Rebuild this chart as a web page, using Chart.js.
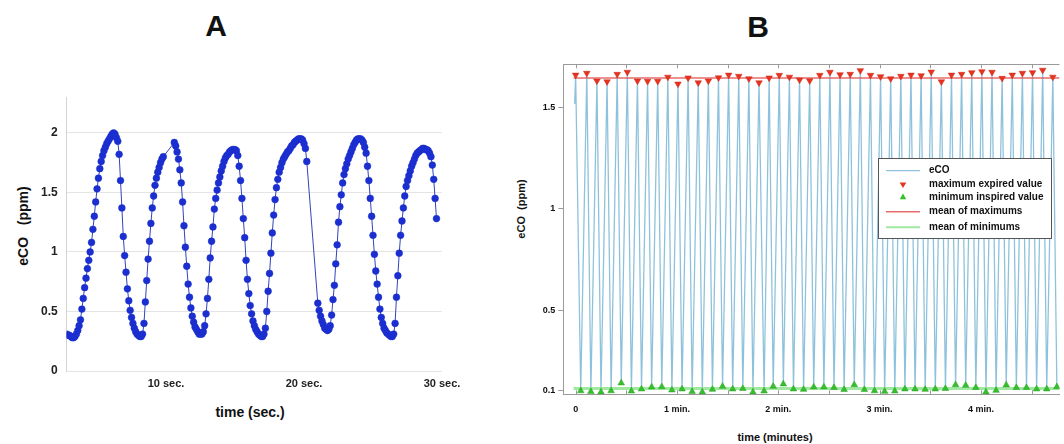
<!DOCTYPE html>
<html>
<head>
<meta charset="utf-8">
<title>eCO</title>
<style>
  html, body { margin: 0; padding: 0; background: #fff; }
  body { width: 1064px; height: 444px; position: relative; overflow: hidden; font-family: "Liberation Sans", Arial, sans-serif; }
  .lbl { position: absolute; transform: translate(-50%, -50%); font-weight: bold; color: #111; white-space: pre; }
  .rot { transform: translate(-50%, -50%) rotate(-90deg); }
  canvas { position: absolute; }
</style>
</head>
<body>
<div class="lbl" style="left:216px;top:26px;font-size:30px;">A</div>
<div class="lbl" style="left:758px;top:27px;font-size:30px;">B</div>
<div class="lbl rot" style="left:23px;top:226px;font-size:14px;">eCO   (ppm)</div>
<div class="lbl" style="left:250px;top:412px;font-size:14px;">time (sec.)</div>
<div class="lbl rot" style="left:521px;top:209px;font-size:11px;">eCO  (ppm)</div>
<div class="lbl" style="left:775px;top:437px;font-size:11px;">time (minutes)</div>

<canvas id="chartA" width="470" height="340" style="left:0;top:90px;width:470px;height:340px;"></canvas>
<canvas id="chartB" width="574" height="404" style="left:490px;top:40px;width:574px;height:404px;"></canvas>

<script src="https://cdn.jsdelivr.net/npm/chart.js"></script>
<script>
// ---- panel A : raw eCO samples (ppm), sampled every 0.1 s, three runs split by gaps
const stepA = 0.1;
const segStartA = [2.8, 10.6, 21.0];
const seg1A = [0.31,0.30,0.30,0.29,0.28,0.28,0.29,0.31,0.34,0.38,
               0.43,0.52,0.61,0.70,0.78,0.86,0.93,1.00,1.08,1.19,
               1.30,1.42,1.53,1.62,1.70,1.76,1.81,1.85,1.88,1.91,
               1.93,1.95,1.97,1.99,2.00,1.99,1.96,1.93,1.82,1.60,
               1.37,1.13,0.97,0.83,0.69,0.59,0.51,0.45,0.40,0.36,
               0.33,0.31,0.30,0.29,0.29,0.31,0.40,0.58,0.76,0.94,
               1.09,1.24,1.37,1.47,1.56,1.62,1.67,1.71,1.75,1.78,
               1.80];
const seg2A = [1.92,1.89,1.84,1.78,1.69,1.58,1.42,1.22,1.04,0.88,
               0.73,0.62,0.53,0.46,0.41,0.37,0.35,0.33,0.31,0.31,
               0.31,0.33,0.38,0.48,0.61,0.77,0.95,1.09,1.21,1.36,
               1.45,1.52,1.58,1.63,1.68,1.72,1.76,1.79,1.81,1.82,
               1.84,1.85,1.86,1.86,1.86,1.85,1.81,1.72,1.60,1.45,
               1.28,1.12,0.93,0.77,0.65,0.55,0.48,0.42,0.38,0.35,
               0.33,0.31,0.30,0.29,0.29,0.31,0.36,0.50,0.67,0.82,
               0.99,1.16,1.31,1.44,1.54,1.61,1.67,1.71,1.75,1.78,
               1.80,1.82,1.84,1.85,1.87,1.89,1.90,1.92,1.93,1.94,
               1.95,1.95,1.95,1.94,1.91,1.87,1.76];
const seg3A = [0.57,0.51,0.46,0.42,0.39,0.36,0.35,0.34,0.35,0.38,
               0.47,0.60,0.72,0.90,1.06,1.25,1.38,1.48,1.58,1.65,
               1.70,1.74,1.78,1.81,1.84,1.87,1.90,1.92,1.94,1.95,
               1.95,1.95,1.94,1.92,1.88,1.83,1.72,1.60,1.45,1.30,
               1.14,0.98,0.84,0.73,0.62,0.52,0.45,0.40,0.36,0.34,
               0.32,0.31,0.30,0.29,0.29,0.31,0.40,0.62,0.80,0.99,
               1.14,1.26,1.37,1.47,1.55,1.60,1.64,1.68,1.72,1.75,
               1.78,1.81,1.83,1.84,1.85,1.86,1.87,1.87,1.86,1.86,
               1.85,1.83,1.80,1.73,1.61,1.45,1.28];
const xTicksA = [10, 20, 30];
const yTicksA = [0, 0.5, 1, 1.5, 2];

// ---- panel B : breath-by-breath extremes (time in minutes, eCO in ppm)
const maxTimesB = [0.00,0.11,0.21,0.31,0.41,0.51,0.61,0.71,0.81,0.91,1.01,1.11,1.21,1.31,1.41,1.51,
                   1.61,1.71,1.81,1.91,2.01,2.11,2.21,2.31,2.41,2.51,2.61,2.71,2.81,2.91,3.01,3.11,
                   3.21,3.31,3.41,3.51,3.61,3.71,3.81,3.91,4.01,4.11,4.21,4.31,4.41,4.51,4.61,4.71];
const maxValsB  = [1.663,1.672,1.634,1.630,1.667,1.677,1.634,1.632,1.632,1.653,1.619,1.649,1.625,1.634,1.650,1.663,
                   1.657,1.645,1.625,1.649,1.662,1.653,1.639,1.635,1.662,1.677,1.665,1.667,1.685,1.662,1.655,1.645,
                   1.657,1.663,1.660,1.678,1.630,1.663,1.667,1.675,1.680,1.677,1.647,1.663,1.672,1.675,1.687,1.653];
const minTimesB = [0.05,0.15,0.25,0.35,0.45,0.55,0.65,0.75,0.85,0.95,1.05,1.15,1.25,1.35,1.45,1.55,
                   1.65,1.75,1.86,1.95,2.05,2.15,2.25,2.35,2.45,2.55,2.65,2.75,2.85,2.95,3.05,3.15,
                   3.25,3.35,3.45,3.55,3.65,3.75,3.85,3.95,4.05,4.15,4.25,4.35,4.45,4.55,4.65,4.75];
const minValsB  = [0.100,0.096,0.094,0.100,0.139,0.099,0.109,0.119,0.120,0.104,0.109,0.096,0.094,0.107,0.122,0.109,
                   0.111,0.094,0.099,0.122,0.134,0.109,0.107,0.119,0.119,0.116,0.106,0.130,0.106,0.100,0.097,0.099,
                   0.109,0.109,0.107,0.109,0.111,0.130,0.127,0.116,0.094,0.102,0.129,0.116,0.116,0.109,0.109,0.120];
const ecoLeadB = [-0.01, 1.52];          // trace start, before first peak
const meanMaxB = 1.648;
const meanMinB = 0.112;
const xTicksB = [0, 0.5, 1, 1.5, 2, 2.5, 3, 3.5, 4, 4.5];
const yTicksB = [0.1, 0.5, 1, 1.5];

Chart.defaults.font.family = '"Liberation Sans", Arial, sans-serif';
Chart.defaults.color = '#1a1a1a';

function plain(v) { return String(v); }

// build panel A points
const ptsA = [];
[seg1A, seg2A, seg3A].forEach(function(seg, k) {
  seg.forEach(function(v, i) {
    ptsA.push({ x: Math.round((segStartA[k] + i * stepA) * 100) / 100, y: v });
  });
});

new Chart(document.getElementById('chartA'), {
  type: 'line',
  data: {
    datasets: [{
      label: 'eCO',
      data: ptsA,
      borderColor: '#3344bb',
      borderWidth: 1,
      pointRadius: 3.4,
      pointBackgroundColor: '#1b2ecf',
      pointBorderColor: '#1b2ecf',
      pointBorderWidth: 0.5,
      tension: 0
    }]
  },
  options: {
    responsive: false,
    animation: false,
    layout: { padding: { top: 7, right: 28, left: 0, bottom: 0 } },
    plugins: { legend: { display: false }, tooltip: { enabled: false } },
    scales: {
      x: {
        type: 'linear', min: 2.8, max: 30,
        afterBuildTicks: function(s) { s.ticks = xTicksA.map(function(v) { return { value: v }; }); },
        ticks: { callback: function(v) { return v + ' sec.'; }, font: { size: 11, weight: 'bold' }, padding: 6, maxRotation: 0, autoSkip: false, color: '#222' },
        grid: { display: false, drawTicks: false },
        border: { display: false },
        afterFit: function(s) { s.height = 59; }
      },
      y: {
        min: 0, max: 2.3,
        afterBuildTicks: function(s) { s.ticks = yTicksA.map(function(v) { return { value: v }; }); },
        ticks: { callback: plain, font: { size: 12, weight: 'bold' }, padding: 0, color: '#222' },
        grid: { color: '#e4e4e4', drawTicks: true, tickLength: 9, tickColor: 'rgba(0,0,0,0)' },
        border: { color: '#d4d4d4' },
        afterFit: function(s) { s.width = 66.7; }
      }
    }
  }
});

// build panel B trace: alternate peak / trough
const ecoPtsB = [{ x: ecoLeadB[0], y: ecoLeadB[1] }];
maxTimesB.forEach(function(t, i) {
  ecoPtsB.push({ x: t, y: maxValsB[i] });
  ecoPtsB.push({ x: minTimesB[i], y: minValsB[i] });
});

const frameB = {
  id: 'frameB',
  afterDraw: function(chart) {
    const ctx = chart.ctx, a = chart.chartArea, x = chart.scales.x;
    ctx.save();
    ctx.strokeStyle = '#9a9a9a';
    ctx.lineWidth = 1;
    ctx.beginPath();
    ctx.moveTo(a.left, Math.round(a.top) + 0.5);
    ctx.lineTo(a.right, Math.round(a.top) + 0.5);
    x.ticks.forEach(function(t) {
      const px = Math.round(x.getPixelForValue(t.value)) + 0.5;
      ctx.moveTo(px, a.top);
      ctx.lineTo(px, a.top + 4);
      ctx.moveTo(px, a.bottom);
      ctx.lineTo(px, a.bottom - 4);
    });
    ctx.stroke();
    ctx.restore();
  }
};

const legendB = {
  id: 'legendB',
  afterDraw: function(chart, args, o) {
    const ctx = chart.ctx;
    ctx.save();
    ctx.fillStyle = '#fff';
    ctx.fillRect(o.x, o.y, o.w, o.h);
    ctx.strokeStyle = '#555';
    ctx.lineWidth = 1;
    ctx.strokeRect(o.x + 0.5, o.y + 0.5, o.w, o.h);
    ctx.font = 'bold 10px "Liberation Sans", Arial, sans-serif';
    ctx.textBaseline = 'middle';
    chart.data.datasets.forEach(function(ds, i) {
      const y = o.y + o.rows[i];
      if (ds.showLine === false) {
        const r = ds.pointRadius, cx = o.markX;
        const dir = ds.pointRotation === 180 ? 1 : -1;
        ctx.beginPath();
        ctx.moveTo(cx, y + dir * r);
        ctx.lineTo(cx - r * 0.87, y - dir * r * 0.5);
        ctx.lineTo(cx + r * 0.87, y - dir * r * 0.5);
        ctx.closePath();
        ctx.fillStyle = ds.pointBackgroundColor;
        ctx.fill();
      } else {
        ctx.strokeStyle = ds.borderColor;
        ctx.lineWidth = Math.min(ds.borderWidth, 2);
        ctx.beginPath();
        ctx.moveTo(o.lineX0, y);
        ctx.lineTo(o.lineX1, y);
        ctx.stroke();
      }
      ctx.fillStyle = '#111';
      ctx.fillText(ds.label, o.textX, y);
    });
    ctx.restore();
  }
};

new Chart(document.getElementById('chartB'), {
  type: 'line',
  data: {
    datasets: [
      { label: 'eCO', data: ecoPtsB, borderColor: '#8ec2dc', borderWidth: 1.3, pointRadius: 0, tension: 0, order: 2 },
      { label: 'maximum expired value', data: maxTimesB.map(function(t, i) { return { x: t, y: maxValsB[i] }; }),
        showLine: false, pointStyle: 'triangle', pointRotation: 180, pointRadius: 3.8,
        pointBackgroundColor: '#e8321e', pointBorderColor: '#c8281a', pointBorderWidth: 0.5, order: 0 },
      { label: 'minimum inspired value', data: minTimesB.map(function(t, i) { return { x: t, y: minValsB[i] }; }),
        showLine: false, pointStyle: 'triangle', pointRotation: 0, pointRadius: 3.8,
        pointBackgroundColor: '#34c02c', pointBorderColor: '#28a022', pointBorderWidth: 0.5, order: 0 },
      { label: 'mean of maximums', data: [{ x: -0.02, y: meanMaxB }, { x: 4.776, y: meanMaxB }],
        borderColor: 'rgba(226,70,70,0.8)', borderWidth: 1.6, pointRadius: 0, order: 1 },
      { label: 'mean of minimums', data: [{ x: -0.02, y: meanMinB }, { x: 4.776, y: meanMinB }],
        borderColor: 'rgba(130,225,130,0.75)', borderWidth: 3, pointRadius: 0, order: 1 }
    ]
  },
  options: {
    responsive: false,
    animation: false,
    layout: { padding: { top: 24.3, right: 4, left: 0, bottom: 0 } },
    plugins: {
      legend: { display: false },
      tooltip: { enabled: false },
      legendB: { x: 388, y: 118, w: 173, h: 80, rows: [12.7, 26.3, 39.3, 53.7, 69.3],
                 lineX0: 396, lineX1: 430, markX: 413, textX: 439 }
    },
    scales: {
      x: {
        type: 'linear', min: -0.122, max: 4.776,
        afterBuildTicks: function(s) { s.ticks = xTicksB.map(function(v) { return { value: v }; }); },
        ticks: {
          callback: function(v) { return v === 0 ? '0' : (Number.isInteger(v) ? v + ' min.' : ''); },
          font: { size: 9, weight: 'bold' }, padding: 10, maxRotation: 0, autoSkip: false, color: '#111'
        },
        grid: { display: false, drawTicks: false },
        border: { color: '#9a9a9a' },
        afterFit: function(s) { s.height = 49.7; }
      },
      y: {
        min: 0.083, max: 1.716,
        afterBuildTicks: function(s) { s.ticks = yTicksB.map(function(v) { return { value: v }; }); },
        ticks: { callback: plain, font: { size: 9, weight: 'bold' }, padding: 3, color: '#111' },
        grid: { drawOnChartArea: false, drawTicks: true, tickLength: 5, color: '#9a9a9a' },
        border: { color: '#9a9a9a' },
        afterFit: function(s) { s.width = 73.3; }
      }
    }
  },
  plugins: [frameB, legendB]
});
</script>
</body>
</html>
